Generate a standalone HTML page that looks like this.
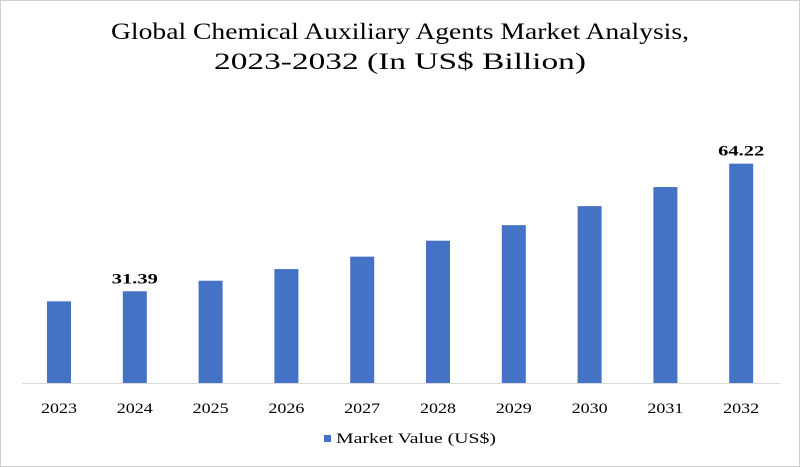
<!DOCTYPE html>
<html><head><meta charset="utf-8"><style>
body{margin:0;background:#fff}
svg{display:block;font-family:"Liberation Serif",serif}
</style></head><body>
<svg id="c" width="800" height="467">
<rect x="0.5" y="0.5" width="799" height="466" fill="#fff" stroke="#d0d0d0"/>
<text x="400" y="39" text-anchor="middle" font-size="23" textLength="578" lengthAdjust="spacingAndGlyphs" fill="#000">Global Chemical Auxiliary Agents Market Analysis,</text>
<text x="400" y="69" text-anchor="middle" font-size="23" textLength="372" lengthAdjust="spacingAndGlyphs" fill="#000">2023-2032 (In US$ Billion)</text>
<line x1="22" y1="383.5" x2="780" y2="383.5" stroke="#d9d9d9"/>
<g id="bars"></g>
<rect x="324" y="435" width="7" height="7" fill="#4472c4"/>
<text x="336" y="443" font-size="15" textLength="160" lengthAdjust="spacingAndGlyphs" fill="#000">Market Value (US$)</text>
</svg>
<script>
const categories=["2023","2024","2025","2026","2027","2028","2029","2030","2031","2032"];
const values=[28.8,31.39,34.1,37.1,40.3,44.4,48.4,53.3,58.2,64.22];
const labels=["","31.39","","","","","","","","64.22"];
const yMin=7.79, base=383, pxPerUnit=3.887;
const x0=59, step=75.8, bw=24;
const y=v=>base-(v-yMin)*pxPerUnit;
const xc=i=>x0+i*step;
const ns="http://www.w3.org/2000/svg", g=document.getElementById('bars');
categories.forEach((c,i)=>{
  const r=document.createElementNS(ns,'rect');
  r.setAttribute('x',xc(i)-bw/2);r.setAttribute('y',y(values[i]));
  r.setAttribute('width',bw);r.setAttribute('height',base-y(values[i]));
  r.setAttribute('fill','#4472c4');
  
  
  g.appendChild(r);
  const t=document.createElementNS(ns,'text');
  t.setAttribute('x',xc(i));t.setAttribute('y',413);
  t.setAttribute('text-anchor','middle');t.setAttribute('font-size','15');
  t.setAttribute('textLength','36');t.setAttribute('lengthAdjust','spacingAndGlyphs');
  t.textContent=c;
  
  
  g.appendChild(t);
  if(labels[i]){
    const l=document.createElementNS(ns,'text');
    l.setAttribute('x',xc(i));l.setAttribute('y',y(values[i])-8);
    l.setAttribute('text-anchor','middle');l.setAttribute('font-size','15');
    l.setAttribute('font-weight','bold');
    l.setAttribute('textLength','46');l.setAttribute('lengthAdjust','spacingAndGlyphs');
    l.textContent=labels[i];
    
    
    g.appendChild(l);
  }
});
</script>
</body></html>
